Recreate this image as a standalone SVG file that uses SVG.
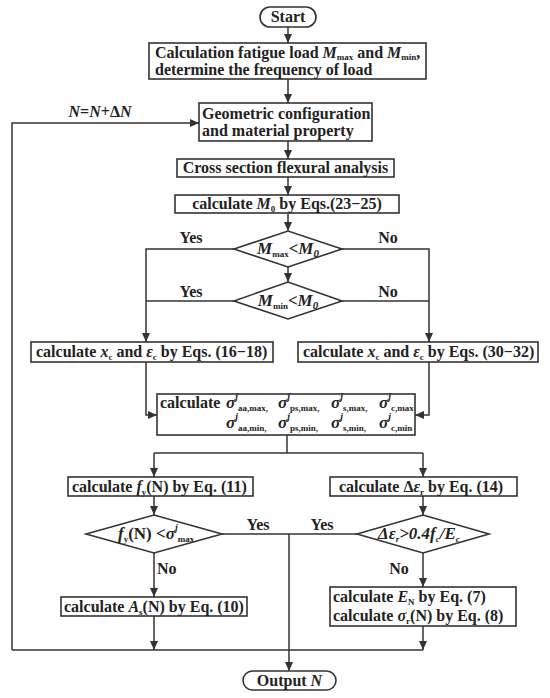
<svg xmlns="http://www.w3.org/2000/svg" width="550" height="698" viewBox="0 0 550 698">
<defs>
<marker id="ah" markerUnits="userSpaceOnUse" markerWidth="9" markerHeight="8" refX="9" refY="4" orient="auto">
<path d="M0,0 L9,4 L0,8 z" fill="#333"/>
</marker>
<style>
text{font-family:"Liberation Serif","Times New Roman",serif;font-weight:bold;font-size:16px;fill:#222}
.it{font-style:italic}
.sub{font-size:9px}
.sup{font-size:10px;font-style:italic}
.sg{font-size:17px;font-style:italic}
.box{fill:#fff;stroke:#333;stroke-width:1.6}
.ln{fill:none;stroke:#333;stroke-width:1.5}
.arr{fill:none;stroke:#333;stroke-width:1.5;marker-end:url(#ah)}
</style>
</defs>
<rect width="550" height="698" fill="#fff"/>
<g id="connectors">
<line class="arr" x1="288" y1="27" x2="288" y2="43"/>
<line class="arr" x1="288" y1="79" x2="288" y2="103"/>
<line class="arr" x1="288" y1="141" x2="288" y2="159"/>
<line class="arr" x1="288" y1="177" x2="288" y2="195"/>
<line class="arr" x1="288" y1="213" x2="288" y2="231"/>
<line class="arr" x1="288" y1="267" x2="288" y2="282"/>
<polyline class="arr" points="234,249 146,249 146,342"/>
<line class="ln" x1="234" y1="301" x2="146" y2="301"/>
<polyline class="arr" points="342,249 429,249 429,342"/>
<line class="ln" x1="342" y1="301" x2="429" y2="301"/>
<polyline class="arr" points="146,362 146,415 157,415"/>
<polyline class="arr" points="429,362 429,415 415,415"/>
<polyline class="ln" points="287,435 287,453"/>
<polyline class="ln" points="154,453 423,453"/>
<line class="arr" x1="154" y1="453" x2="154" y2="477"/>
<line class="arr" x1="423" y1="453" x2="423" y2="477"/>
<line class="arr" x1="154" y1="496" x2="154" y2="515"/>
<line class="arr" x1="423" y1="496" x2="423" y2="515"/>
<line class="ln" x1="222" y1="534" x2="358" y2="534"/>
<line class="arr" x1="289" y1="534" x2="289" y2="671"/>
<line class="arr" x1="154" y1="553" x2="154" y2="597"/>
<line class="arr" x1="423" y1="553" x2="423" y2="587"/>
<line class="arr" x1="154" y1="616" x2="154" y2="650"/>
<line class="arr" x1="423" y1="625" x2="423" y2="650"/>
<line class="ln" x1="12" y1="650" x2="423" y2="650"/>
<polyline class="arr" points="12,650 12,123 199,123"/>
<text x="100" y="117" text-anchor="middle"><tspan class="it">N</tspan>=<tspan class="it">N</tspan>+Δ<tspan class="it">N</tspan></text>
<text x="191" y="243" text-anchor="middle">Yes</text>
<text x="388" y="243" text-anchor="middle">No</text>
<text x="191" y="297" text-anchor="middle">Yes</text>
<text x="388" y="297" text-anchor="middle">No</text>
<text x="258" y="530" text-anchor="middle">Yes</text>
<text x="322" y="530" text-anchor="middle">Yes</text>
<text x="157" y="574">No</text>
<text x="399" y="574" text-anchor="middle">No</text>
</g>
<g id="start">
<rect x="260" y="7" width="56" height="20" rx="10" class="box"/>
<text x="288" y="22" text-anchor="middle">Start</text>
</g>
<g id="fatigue-load">
<rect x="149" y="43" width="277" height="36" class="box"/>
<text x="155" y="58">Calculation fatigue load <tspan class="it">M</tspan><tspan class="sub" dy="2">max</tspan><tspan dy="-2"> and </tspan><tspan class="it">M</tspan><tspan class="sub" dy="2">min</tspan><tspan dy="-2">,</tspan></text>
<text x="155" y="75">determine the frequency of load</text>
</g>
<g id="geometry">
<rect x="199" y="103" width="173" height="38" class="box"/>
<text x="202" y="119">Geometric configuration</text>
<text x="202" y="136">and material property</text>
</g>
<g id="cross-section">
<rect x="177" y="159" width="217" height="18" class="box"/>
<text x="285.5" y="173" text-anchor="middle">Cross section flexural analysis</text>
</g>
<g id="calc-m0">
<rect x="175" y="195" width="224" height="18" class="box"/>
<text x="287" y="209" text-anchor="middle">calculate <tspan class="it">M</tspan><tspan class="sub" dy="3">0</tspan><tspan dy="-3"> by Eqs.(23−25)</tspan></text>
</g>
<g id="dec-mmax">
<polygon points="234,249 288,231 342,249 288,267" class="box"/>
<text x="288" y="254" text-anchor="middle" style="font-size:17px"><tspan class="it">M</tspan><tspan class="sub" dy="3">max</tspan><tspan dy="-3">&lt;</tspan><tspan class="it">M</tspan><tspan class="sub it" dy="3" style="font-size:11px">0</tspan></text>
</g>
<g id="dec-mmin">
<polygon points="234,301 288,282 342,301 288,319" class="box"/>
<text x="288" y="306" text-anchor="middle" style="font-size:17px"><tspan class="it">M</tspan><tspan class="sub" dy="3">min</tspan><tspan dy="-3">&lt;</tspan><tspan class="it">M</tspan><tspan class="sub it" dy="3" style="font-size:11px">0</tspan></text>
</g>
<g id="calc-xc-left">
<rect x="31" y="342" width="242" height="20" class="box"/>
<text x="36" y="357">calculate <tspan class="it">x</tspan><tspan class="sub" dy="3">c</tspan><tspan dy="-3"> and </tspan><tspan class="it">ε</tspan><tspan class="sub" dy="3">c</tspan><tspan dy="-3"> by Eqs. (16−18)</tspan></text>
</g>
<g id="calc-xc-right">
<rect x="298" y="342" width="240" height="20" class="box"/>
<text x="303" y="357">calculate <tspan class="it">x</tspan><tspan class="sub" dy="3">c</tspan><tspan dy="-3"> and </tspan><tspan class="it">ε</tspan><tspan class="sub" dy="3">c</tspan><tspan dy="-3"> by Eqs. (30−32)</tspan></text>
</g>
<g id="calc-stress">
<rect x="157" y="394" width="258" height="41" class="box"/>
<text x="160" y="408">calculate</text>
<text x="226" y="408"><tspan class="sg">σ</tspan><tspan class="sup" dy="-8">j</tspan><tspan class="sub" dy="11">aa,max,</tspan></text>
<text x="278" y="408"><tspan class="sg">σ</tspan><tspan class="sup" dy="-8">j</tspan><tspan class="sub" dy="11">ps,max,</tspan></text>
<text x="331" y="408"><tspan class="sg">σ</tspan><tspan class="sup" dy="-8">j</tspan><tspan class="sub" dy="11">s,max,</tspan></text>
<text x="379" y="408"><tspan class="sg">σ</tspan><tspan class="sup" dy="-8">j</tspan><tspan class="sub" dy="11">c,max</tspan></text>
<text x="226" y="428"><tspan class="sg">σ</tspan><tspan class="sup" dy="-8">j</tspan><tspan class="sub" dy="11">aa,min,</tspan></text>
<text x="278" y="428"><tspan class="sg">σ</tspan><tspan class="sup" dy="-8">j</tspan><tspan class="sub" dy="11">ps,min,</tspan></text>
<text x="331" y="428"><tspan class="sg">σ</tspan><tspan class="sup" dy="-8">j</tspan><tspan class="sub" dy="11">s,min,</tspan></text>
<text x="379" y="428"><tspan class="sg">σ</tspan><tspan class="sup" dy="-8">j</tspan><tspan class="sub" dy="11">c,min</tspan></text>
</g>
<g id="calc-fy">
<rect x="68" y="477" width="185" height="19" class="box"/>
<text x="72" y="492">calculate <tspan class="it">f</tspan><tspan class="sub" dy="3">y</tspan><tspan dy="-3">(N) by Eq. (11)</tspan></text>
</g>
<g id="calc-deps">
<rect x="330" y="477" width="187" height="19" class="box"/>
<text x="339" y="492">calculate Δ<tspan class="it">ε</tspan><tspan class="sub" dy="3">r</tspan><tspan dy="-3"> by Eq. (14)</tspan></text>
</g>
<g id="dec-fy">
<polygon points="86,534 154,515 222,534 154,553" class="box"/>
<text x="118" y="539" style="font-size:17px"><tspan class="it">f</tspan><tspan class="sub" dy="3">y</tspan><tspan dy="-3">(N) &lt;</tspan><tspan class="it">σ</tspan><tspan class="sup" dy="-8">j</tspan><tspan class="sub" dy="11">max</tspan></text>
</g>
<g id="dec-deps">
<polygon points="357,534 423,515 489,534 423,553" class="box"/>
<text x="378" y="539" class="it" style="font-size:17px">Δε<tspan class="sub" dy="3">r</tspan><tspan dy="-3">&gt;0.4</tspan>f<tspan class="sub" dy="3">c</tspan><tspan dy="-3">/E</tspan><tspan class="sub" dy="3">c</tspan></text>
</g>
<g id="calc-as">
<rect x="61" y="597" width="186" height="19" class="box"/>
<text x="64" y="612">calculate <tspan class="it">A</tspan><tspan class="sub" dy="3">s</tspan><tspan dy="-3">(N) by Eq. (10)</tspan></text>
</g>
<g id="calc-en">
<rect x="330" y="587" width="186" height="39" class="box"/>
<text x="333" y="602">calculate <tspan class="it">E</tspan><tspan class="sub" dy="3">N</tspan><tspan dy="-3"> by Eq. (7)</tspan></text>
<text x="333" y="621">calculate <tspan class="it">σ</tspan><tspan class="sub" dy="3">r</tspan><tspan dy="-3">(N) by Eq. (8)</tspan></text>
</g>
<g id="output">
<rect x="243" y="671" width="93" height="19" rx="9.5" class="box"/>
<text x="289.5" y="686" text-anchor="middle">Output <tspan class="it">N</tspan></text>
</g>
</svg>
